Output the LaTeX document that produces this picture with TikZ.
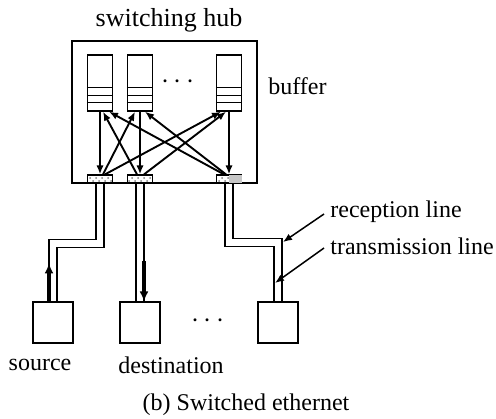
\documentclass[tikz,border=0pt]{standalone}
\usepackage{fontspec}
\setmainfont{Liberation Serif}
\usetikzlibrary{arrows.meta,patterns}

\begin{document}
\begin{tikzpicture}[
    x=0.5pt, y=-0.5pt,
    font=\fontsize{12}{14}\selectfont,
    hubbox/.style={rectangle, draw, line width=0.7pt, minimum width=92.5pt, minimum height=71pt, inner sep=0pt},
    buffer/.style={rectangle, draw, line width=0.7pt, minimum width=12.5pt, minimum height=28pt, inner sep=0pt},
    port/.style={rectangle, draw, line width=0.6pt, pattern=crosshatch dots, pattern color=gray, minimum width=12.5pt, minimum height=4pt, inner sep=0pt},
    station/.style={rectangle, draw, line width=0.6pt, minimum width=20pt, minimum height=20.5pt, inner sep=0pt},
    switch/.style={-{Latex[length=4.5pt,width=3.6pt]}, line width=0.95pt},
    wire/.style={line width=0.55pt},
    flow/.style={-{Latex[length=5pt,width=4.5pt]}, line width=1.6pt},
    pointer/.style={-{Latex[length=4.5pt,width=3.6pt]}, line width=0.75pt},
    label/.style={inner sep=1pt},
    dots/.style={inner sep=0pt, font=\fontsize{15}{15}\selectfont}
]
\useasboundingbox (0,0) rectangle (496,418);

% Switching hub
\node[hubbox] (hub) at (164.5,112) {};
\node[label, font=\fontsize{13}{15}\selectfont] (hubname) at (169,20) {switching hub};

% Buffers
\node[buffer] (b1) at (100,83) {};
\node[buffer] (b2) at (140,83) {};
\node[buffer] (b3) at (229,83) {};
\node[dots] (hubdots) at (178,82) {$\cdots$};
\node[label, anchor=west] (buflabel) at (266,86) {buffer};
\foreach \b in {b1,b2,b3} {
    \foreach \h in {4.5pt,8pt,12pt}
        \draw[line width=0.6pt] ([yshift=\h]\b.south west) -- ([yshift=\h]\b.south east);
}

% Ports
\node[port] (p1) at (100,179) {};
\node[port] (p2) at (140,179) {};
\node[port] (p3) at (229,179) {};
\fill[gray!45] ([yshift=-0.3pt]p3.north) rectangle ([xshift=-0.3pt,yshift=0.3pt]p3.south east);

% Arrows - buffer to its own port
\foreach \i in {1,2,3}
    \draw[switch] (b\i.south) -- (p\i.north);

% Arrows - ports to the other buffers
\draw[switch] ([xshift=-1.5pt]p2.north) -- ([xshift=1.5pt]b1.south);
\draw[switch] ([xshift=-2.5pt]p3.north) -- ([xshift=4.5pt]b1.south);
\draw[switch] ([xshift=1.5pt]p1.north) -- ([xshift=-2.5pt]b2.south);
\draw[switch] ([xshift=-1.5pt]p3.north) -- ([xshift=2.5pt]b2.south);
\draw[switch] ([xshift=2.5pt]p1.north) -- ([xshift=-4pt]b3.south);
\draw[switch] ([xshift=2pt]p2.north) -- ([xshift=-1.5pt]b3.south);

% Stations
\node[station] (src) at (53,322.5) {};
\node[station] (dst) at (140,322.5) {};
\node[station] (sta3) at (278,322.5) {};
\node[dots] (stadots) at (208,321) {$\cdots$};
\node[label] (srcname) at (40,365) {source};
\node[label] (dstname) at (171,365) {destination};

% Lines - ports to stations
\draw[wire] ([xshift=-2pt]p1.south) -- ++(0,56) -| ([xshift=-2pt]src.north);
\draw[wire] ([xshift=2pt]p1.south) -- ++(0,64) -| ([xshift=2pt]src.north);
\draw[wire] ([xshift=-2pt]p2.south) -- ([xshift=-2pt]dst.north);
\draw[wire] ([xshift=2pt]p2.south) -- ([xshift=2pt]dst.north);
\draw[wire] ([xshift=-2pt]p3.south) -- ++(0,63) -| ([xshift=-2pt]sta3.north);
\draw[wire] ([xshift=2pt]p3.south) -- ++(0,55) -| ([xshift=2pt]sta3.north);

% Frame flow
\draw[flow] ([xshift=-2pt]src.north) -- ([xshift=-2pt,yshift=19pt]src.north);
\draw[flow] ([xshift=2pt,yshift=20pt]dst.north) -- ([xshift=2pt]dst.north);

% Line labels
\coordinate (rxpt) at (283,242);
\coordinate (txpt) at (275,283);
\node[label, anchor=west] (rx) at (328,212) {reception line};
\node[label, anchor=west] (tx) at (328,246) {transmission line};
\draw[pointer] ([xshift=-2pt,yshift=-1pt]rx.west) -- (rxpt);
\draw[pointer] ([xshift=-2pt,yshift=-1pt]tx.west) -- (txpt);

% Caption
\node[label] (caption) at (246,405) {(b) Switched ethernet};

\end{tikzpicture}
\end{document}
